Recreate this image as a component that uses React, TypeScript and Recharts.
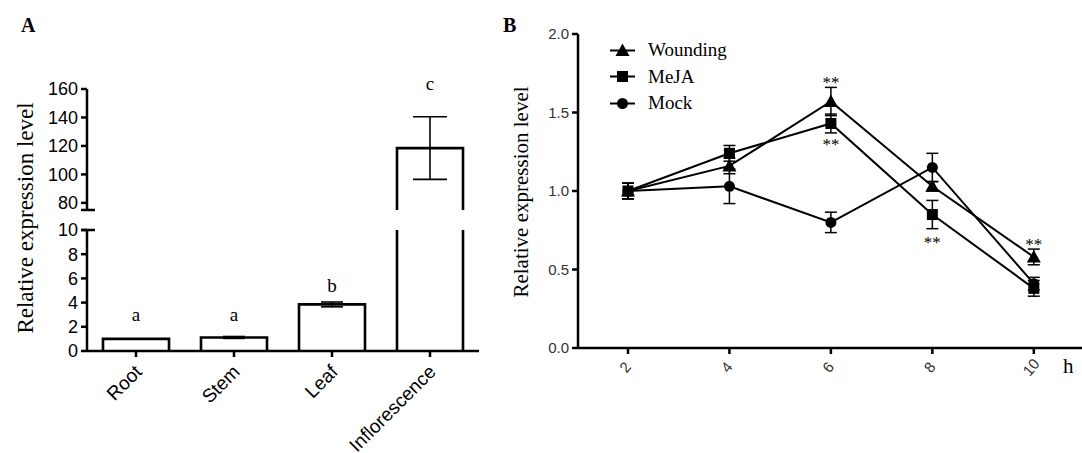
import React from "react";
import {
  BarChart, Bar, XAxis, YAxis, ErrorBar, ReferenceDot,
  LineChart, Line, Legend,
} from "recharts";

const tissues = ["Root", "Stem", "Leaf", "Inflorescence"];
const tissueLevel = [1.0, 1.12, 3.85, 118.5];
const tissueErr = [0, 0.08, 0.2, 22];
const tissueLetter = ["a", "a", "b", "c"];
// baseline of each significance letter, in axis units (last one on the upper axis)
const letterBase = [2.5, 2.5, 4.9, 159.3];

const hours = [2, 4, 6, 8, 10];
const wounding = [1.0, 1.16, 1.57, 1.03, 0.58];
const woundingErr = [0.05, 0.05, 0.09, 0.03, 0.05];
const meja = [1.0, 1.24, 1.43, 0.85, 0.38];
const mejaErr = [0.05, 0.05, 0.06, 0.09, 0.05];
const mock = [1.0, 1.03, 0.8, 1.15, 0.41];
const mockErr = [0.05, 0.11, 0.065, 0.09, 0.04];
const starHours = [6, 6, 8, 10];
const starBase = [1.656, 1.26, 0.637, 0.624];

const upperTicks = [80, 100, 120, 140, 160];
const lowerTicks = [0, 2, 4, 6, 8, 10];
const levelTicks = [0, 0.5, 1.0, 1.5, 2.0];

const serif = "'Liberation Serif', 'Times New Roman', serif";
const sans = "'Liberation Sans', Arial, sans-serif";

const tissueData = tissues.map((name, i) => ({ name, value: tissueLevel[i], err: tissueErr[i] }));
const courseData = hours.map((h, i) => ({
  h,
  wounding: wounding[i], wErr: woundingErr[i],
  meja: meja[i], mErr: mejaErr[i],
  mock: mock[i], kErr: mockErr[i],
}));

const series = [
  { key: "wounding", err: "wErr", name: "Wounding", kind: "triangle" },
  { key: "meja", err: "mErr", name: "MeJA", kind: "square" },
  { key: "mock", err: "kErr", name: "Mock", kind: "circle" },
];

function marker(kind: string, cx: number, cy: number) {
  if (kind === "triangle")
    return <polygon points={`${cx},${cy - 7} ${cx + 7},${cy + 5.5} ${cx - 7},${cy + 5.5}`} fill="#000" />;
  if (kind === "square") return <rect x={cx - 5.5} y={cy - 5.5} width={11} height={11} fill="#000" />;
  return <circle cx={cx} cy={cy} r={5.5} fill="#000" />;
}

// open-bottomed bar, cut off at the edges of its own band of the broken axis
const openBar = (lo: number, hi: number) => (p: any) => {
  const { x, y, width, height } = p;
  if (x == null || y == null) return <g />;
  const top = Math.min(y, y + height);
  const bot = Math.min(Math.max(y, y + height), hi);
  if (top >= hi - 1) return <g />;
  const st = { fill: "none", stroke: "#000", strokeWidth: 2.6 };
  if (top < lo) {
    return (
      <g>
        <line x1={x} x2={x} y1={lo} y2={bot} {...st} />
        <line x1={x + width} x2={x + width} y1={lo} y2={bot} {...st} />
      </g>
    );
  }
  return <path d={`M${x},${bot}L${x},${top}L${x + width},${top}L${x + width},${bot}`} {...st} />;
};

const axisA = { fontSize: 18, fontFamily: sans, fill: "#000" };
const lineStroke = { stroke: "#000", strokeWidth: 2.5 };

const SlantTick = (p: any) => {
  const { x, y, payload } = p;
  const ax = x + 7, ay = y + 14;
  return (
    <text x={ax} y={ay} transform={`rotate(-45 ${ax} ${ay})`} textAnchor="end"
      fontSize={19} fontFamily={sans} fill="#000">
      {payload.value}
    </text>
  );
};

const HourTick = (p: any) => {
  const { x, y, payload } = p;
  const cx = x - 3, cy = y + 11;
  return (
    <text x={cx} y={cy} transform={`rotate(-50 ${cx} ${cy})`} textAnchor="middle"
      dominantBaseline="central" fontSize={15} fontFamily={sans} fill="#333">
      {payload.value}
    </text>
  );
};

const CourseLegend = () => (
  <div>
    {series.map((s) => (
      <div key={s.key} style={{ display: "flex", alignItems: "center", height: 26.5 }}>
        <svg width={25} height={15}>
          <line x1={0} x2={25} y1={7.5} y2={7.5} stroke="#000" strokeWidth={2} />
          {marker(s.kind, 12.5, 7.5)}
        </svg>
        <span style={{ marginLeft: 13, fontFamily: serif, fontSize: 19, color: "#000" }}>{s.name}</span>
      </div>
    ))}
  </div>
);

export default function App() {
  return (
    <div style={{ position: "absolute", left: 0, top: 0, width: 1082, height: 453, background: "#fff" }}>
      {/* panel A, upper part of the broken axis */}
      <div style={{ position: "absolute", left: 0, top: 0 }}>
        <BarChart width={480} height={215} data={tissueData} margin={{ top: 89, right: 1, bottom: 5, left: 0 }}>
          <XAxis dataKey="name" hide />
          <YAxis width={87} domain={[75, 160]} ticks={upperTicks} interval={0} allowDataOverflow
            tick={axisA} tickSize={6} tickMargin={3} tickLine={lineStroke} axisLine={lineStroke} />
          <Bar dataKey="value" barSize={66} isAnimationActive={false} shape={openBar(89, 210)}>
            <ErrorBar dataKey="err" width={17} stroke="#000" strokeWidth={1.6} direction="y" />
          </Bar>
          <ReferenceDot x={tissues[3]} y={letterBase[3]} r={0} ifOverflow="visible"
            shape={(p: any) => (
              <text x={p.cx} y={p.cy} textAnchor="middle" fontFamily={serif} fontSize={19} fill="#000">
                {tissueLetter[3]}
              </text>
            )} />
        </BarChart>
      </div>
      {/* panel A, lower part */}
      <div style={{ position: "absolute", left: 0, top: 0 }}>
        <BarChart width={480} height={453} data={tissueData} margin={{ top: 230, right: 1, bottom: 2, left: 0 }}>
          <XAxis dataKey="name" height={100} interval={0} tick={<SlantTick />}
            tickSize={6} tickMargin={2} tickLine={lineStroke} axisLine={lineStroke} />
          <YAxis width={87} domain={[0, 10]} ticks={lowerTicks} interval={0} allowDataOverflow
            tick={axisA} tickSize={6} tickMargin={3} tickLine={lineStroke} axisLine={lineStroke} />
          <Bar dataKey="value" barSize={66} isAnimationActive={false} shape={openBar(230, 351)}>
            <ErrorBar dataKey="err" width={11} stroke="#000" strokeWidth={1.6} direction="y" />
          </Bar>
          {tissues.slice(0, 3).map((t, i) => (
            <ReferenceDot key={t} x={t} y={letterBase[i]} r={0} ifOverflow="visible"
              shape={(p: any) => (
                <text x={p.cx} y={p.cy} textAnchor="middle" fontFamily={serif} fontSize={19} fill="#000">
                  {tissueLetter[i]}
                </text>
              )} />
          ))}
        </BarChart>
      </div>
      {/* panel B */}
      <div style={{ position: "absolute", left: 480, top: 0 }}>
        <LineChart width={602} height={453} data={courseData} margin={{ top: 34, right: 0, bottom: 45, left: 0 }}>
          <XAxis dataKey="h" type="number" domain={[1.015, 10.95]} ticks={hours} interval={0} allowDataOverflow
            height={60} tick={<HourTick />} tickSize={6} tickLine={lineStroke} axisLine={lineStroke} />
          <YAxis width={98} domain={[0, 2]} ticks={levelTicks} interval={0}
            tickFormatter={(v: number) => v.toFixed(1)}
            tick={{ fontSize: 15, fontFamily: sans, fill: "#333" }} tickSize={6} tickMargin={3}
            tickLine={lineStroke} axisLine={lineStroke} />
          <Legend layout="vertical" align="center" verticalAlign="middle" content={<CourseLegend />}
            wrapperStyle={{ left: 130, top: 37, width: "auto" }} />
          {series.map((s) => (
            <Line key={s.key} dataKey={s.key} name={s.name} stroke="#000" strokeWidth={2}
              isAnimationActive={false} legendType="none"
              dot={(p: any) => <g key={`${s.key}-${p.index}`}>{marker(s.kind, p.cx, p.cy)}</g>}>
              <ErrorBar dataKey={s.err} width={6} stroke="#000" strokeWidth={1.5} direction="y" />
            </Line>
          ))}
          {starHours.map((h, i) => (
            <ReferenceDot key={i} x={h} y={starBase[i]} r={0} ifOverflow="visible"
              shape={(p: any) => (
                <text x={p.cx} y={p.cy} textAnchor="middle" fontFamily={serif} fontSize={17} fill="#000">**</text>
              )} />
          ))}
        </LineChart>
      </div>
      {/* panel letters, axis titles, axis break marks */}
      <svg width={1082} height={453} style={{ position: "absolute", left: 0, top: 0, pointerEvents: "none" }}>
        <text x={21} y={32} fontFamily={serif} fontWeight="bold" fontSize={20}>A</text>
        <text x={503} y={32} fontFamily={serif} fontWeight="bold" fontSize={20}>B</text>
        <text x={0} y={0} transform="translate(33 218) rotate(-90)" textAnchor="middle"
          fontFamily={serif} fontSize={23}>Relative expression level</text>
        <text x={0} y={0} transform="translate(528 192) rotate(-90)" textAnchor="middle"
          fontFamily={serif} fontSize={21}>Relative expression level</text>
        <line x1={81} x2={95} y1={210} y2={210} stroke="#000" strokeWidth={2.5} />
        <line x1={81} x2={95} y1={230} y2={230} stroke="#000" strokeWidth={2.5} />
        <text x={1063} y={373} fontFamily={serif} fontSize={21}>h</text>
      </svg>
    </div>
  );
}
